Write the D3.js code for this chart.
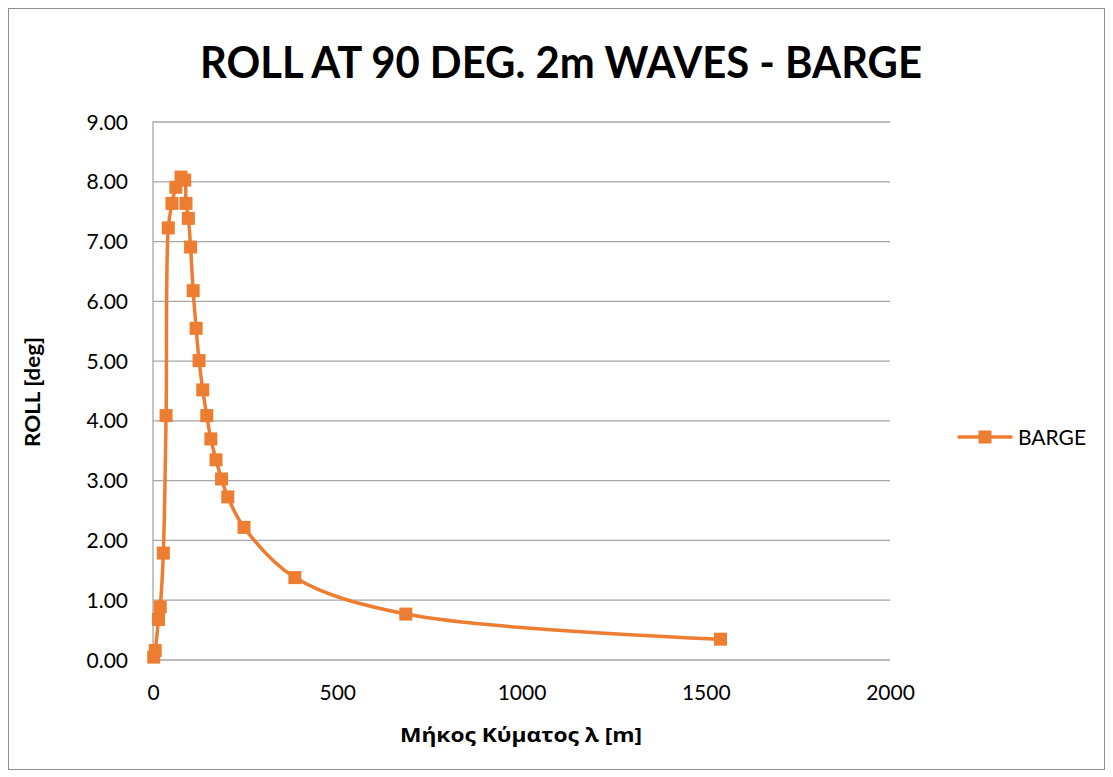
<!DOCTYPE html>
<html>
<head>
<meta charset="utf-8">
<script src="https://cdn.jsdelivr.net/npm/d3@7"></script>
<style>
  html, body { margin: 0; padding: 0; background: #fff; }
  svg { display: block; }
</style>
</head>
<body>
<svg id="chart" width="1113" height="777"></svg>
<script>
// Wave length λ [m] and roll response [deg] for the barge, beam seas
const waveLength = [2, 6, 15, 19.5, 28, 35.5, 41.5, 51.5, 62, 76, 86, 89.5, 96, 102, 109, 117, 125, 135, 146, 157, 171, 186, 203, 247, 385, 686, 1540];
const rollDeg    = [0.04, 0.15, 0.67, 0.88, 1.78, 4.08, 7.22, 7.63, 7.90, 8.07, 8.02, 7.63, 7.38, 6.90, 6.17, 5.54, 5.00, 4.51, 4.08, 3.69, 3.34, 3.02, 2.72, 2.21, 1.37, 0.76, 0.34];
const xTicks = [0, 500, 1000, 1500, 2000];
const yTicks = [0, 1, 2, 3, 4, 5, 6, 7, 8, 9];
const seriesName = "BARGE";
const chartTitle = "ROLL AT 90 DEG. 2m WAVES - BARGE";
const xTitle = "Μήκος Κύματος λ [m]";
const yTitle = "ROLL [deg]";

const svg = d3.select("#chart");
const orange = "#ED7D31";
const gridColor = "#A6A6A6";
const font = "Lato, 'Open Sans', 'Noto Sans', sans-serif";

// Plot area
const plot = { left: 153, right: 890, top: 121.5, bottom: 659.5 };
const x = d3.scaleLinear().domain([0, 2000]).range([plot.left, plot.right]);
const y = d3.scaleLinear().domain([0, 9]).range([plot.bottom, plot.top]);

// Outer chart frame
svg.append("rect")
  .attr("x", 8.5).attr("y", 8.5).attr("width", 1096).attr("height", 761)
  .attr("fill", "#fff").attr("stroke", "#8E8E8E").attr("stroke-width", 1);

// Title
svg.append("text")
  .attr("x", 561).attr("y", 78)
  .attr("text-anchor", "middle")
  .attr("font-family", font).attr("font-weight", "bold")
  .attr("font-size", 44)
  .attr("textLength", 722).attr("lengthAdjust", "spacingAndGlyphs")
  .attr("fill", "#000")
  .text(chartTitle);

// Horizontal gridlines + y labels
const yAxis = d3.axisLeft(y).tickValues(yTicks).tickSize(-(plot.right - plot.left))
  .tickFormat(d3.format(".2f")).tickPadding(24);
const gy = svg.append("g").attr("transform", `translate(${plot.left},0)`).call(yAxis);
gy.select(".domain").remove();
gy.selectAll(".tick line").attr("stroke", gridColor).attr("stroke-width", 1.3);
gy.selectAll(".tick text")
  .attr("font-family", font).attr("font-size", 21).attr("fill", "#000")
  .attr("x", -25).attr("dy", "0.36em");

// Vertical axis line
svg.append("line")
  .attr("x1", x(0)).attr("x2", x(0))
  .attr("y1", y(9)).attr("y2", y(0))
  .attr("stroke", gridColor).attr("stroke-width", 1.3);

// X axis labels
const xAxis = d3.axisBottom(x).tickValues(xTicks).tickSize(0).tickFormat(d3.format("d"));
const gx = svg.append("g").attr("transform", `translate(0,${plot.bottom})`).call(xAxis);
gx.select(".domain").remove();
gx.selectAll(".tick text")
  .attr("font-family", font).attr("font-size", 21).attr("fill", "#000")
  .attr("y", 26).attr("dy", "0.71em");

// Axis titles
svg.append("text")
  .attr("x", 521).attr("y", 742)
  .attr("text-anchor", "middle")
  .attr("font-family", "'Open Sans', 'Noto Sans', sans-serif").attr("font-weight", "bold")
  .attr("font-size", 20)
  .attr("textLength", 242).attr("lengthAdjust", "spacingAndGlyphs")
  .text(xTitle);

svg.append("text")
  .attr("transform", `translate(40,${392}) rotate(-90)`)
  .attr("text-anchor", "middle")
  .attr("font-family", font).attr("font-weight", "bold")
  .attr("font-size", 20)
  .attr("textLength", 110).attr("lengthAdjust", "spacingAndGlyphs")
  .text(yTitle);

// Data series
const data = waveLength.map((d, i) => ({ x: d, y: rollDeg[i] }));
const line = d3.line()
  .x(d => x(d.x)).y(d => y(d.y))
  .curve(d3.curveCatmullRom.alpha(0.5));

svg.append("path")
  .datum(data)
  .attr("d", line)
  .attr("fill", "none")
  .attr("stroke", orange)
  .attr("stroke-width", 3.5)
  .attr("stroke-linejoin", "round")
  .attr("stroke-linecap", "round");

const mk = 13;
svg.append("g").selectAll("rect")
  .data(data)
  .join("rect")
  .attr("x", d => x(d.x) - mk / 2)
  .attr("y", d => y(d.y) - mk / 2)
  .attr("width", mk).attr("height", mk)
  .attr("fill", orange);

// Legend
const lg = svg.append("g");
lg.append("line")
  .attr("x1", 959).attr("x2", 1011).attr("y1", 437).attr("y2", 437)
  .attr("stroke", orange).attr("stroke-width", 3.5).attr("stroke-linecap", "round");
lg.append("rect")
  .attr("x", 985 - mk / 2).attr("y", 437 - mk / 2).attr("width", mk).attr("height", mk)
  .attr("fill", orange);
lg.append("text")
  .attr("x", 1018).attr("y", 445)
  .attr("font-family", font).attr("font-size", 21).attr("fill", "#000")
  .text(seriesName);
</script>
</body>
</html>
